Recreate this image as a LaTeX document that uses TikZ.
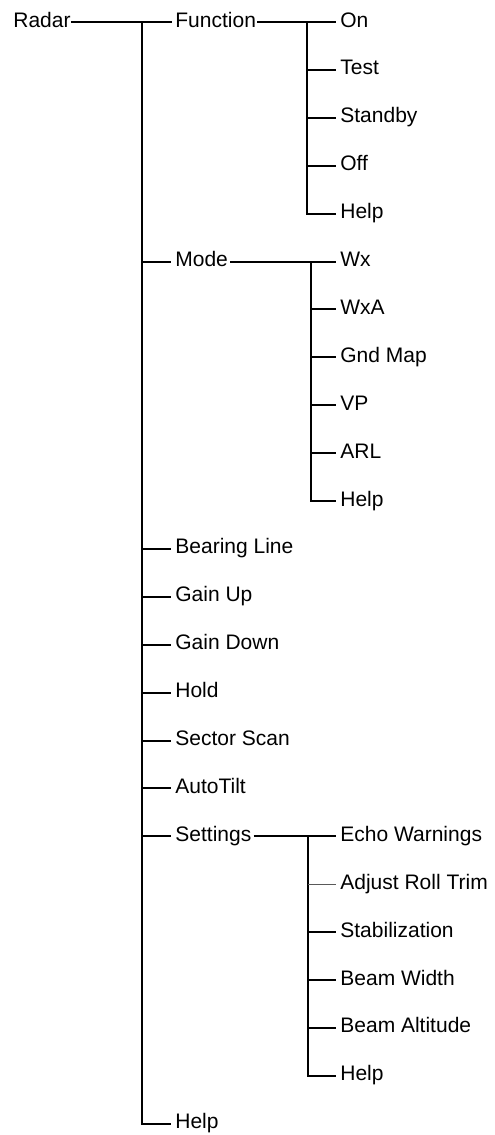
\documentclass[tikz,border=0pt]{standalone}
\usepackage{fontspec}
\setmainfont{Liberation Sans}
\begin{document}
\begin{tikzpicture}[x=0.5pt,y=-0.5pt,
  lbl/.style={anchor=west, inner sep=0pt, text height=5pt, text depth=0pt,
              font=\fontsize{10.5}{12}\selectfont},
  link/.style={line width=1pt, line join=miter},
  faint/.style={line width=0.5pt, black!65}]
\useasboundingbox (0,0) rectangle (494,1135);

% ---- labels -------------------------------------------------------
\node[lbl] (radar)    at (13,22)     {Radar};
% first level
\node[lbl] (function) at (175,22)    {Function};
\node[lbl] (mode)     at (175,261.5) {Mode};
\node[lbl] (bearing)  at (175,548.9) {Bearing Line};
\node[lbl] (gainup)   at (175,596.8) {Gain Up};
\node[lbl] (gaindown) at (175,644.7) {Gain Down};
\node[lbl] (hold)     at (175,692.6) {Hold};
\node[lbl] (sector)   at (175,740.5) {Sector Scan};
\node[lbl] (autotilt) at (175,788.4) {AutoTilt};
\node[lbl] (settings) at (175,836.3) {Settings};
\node[lbl] (help)     at (175,1123.7){Help};
% Function menu
\node[lbl] (fon)      at (340,22)    {On};
\node[lbl] (ftest)    at (340,69.9)  {Test};
\node[lbl] (fstandby) at (340,117.8) {Standby};
\node[lbl] (foff)     at (340,165.7) {Off};
\node[lbl] (fhelp)    at (340,213.6) {Help};
% Mode menu
\node[lbl] (mwx)      at (340,261.5) {Wx};
\node[lbl] (mwxa)     at (340,309.4) {WxA};
\node[lbl] (mgnd)     at (340,357.3) {Gnd Map};
\node[lbl] (mvp)      at (340,405.2) {VP};
\node[lbl] (marl)     at (340,453.1) {ARL};
\node[lbl] (mhelp)    at (340,501)   {Help};
% Settings menu
\node[lbl] (secho)    at (340,836.3) {Echo Warnings};
\node[lbl] (sroll)    at (340,884.2) {Adjust Roll Trim};
\node[lbl] (sstab)    at (340,932.1) {Stabilization};
\node[lbl] (sbeamw)   at (340,980)   {Beam Width};
\node[lbl] (sbeama)   at (340,1027.9){Beam Altitude};
\node[lbl] (shelp)    at (340,1075.8){Help};

% ---- main trunk ---------------------------------------------------
\coordinate (trunk) at (142,22);
\draw[link] (radar.east) -- ([xshift=-1.5pt]function.west);
\draw[link] (trunk) |- ([xshift=-2pt]help.west);
\foreach \n in {mode,bearing,gainup,gaindown,hold,sector,autotilt,settings}
  \draw[link] (trunk |- \n.west) -- ([xshift=-2pt]\n.west);

% ---- Function branch ----------------------------------------------
\coordinate (fsub) at (307,22);
\draw[link] ([xshift=0.5pt]function.east) -- ([xshift=-2pt]fon.west);
\draw[link] (fsub) |- ([xshift=-2pt]fhelp.west);
\foreach \n in {ftest,fstandby,foff}
  \draw[link] (fsub |- \n.west) -- ([xshift=-2pt]\n.west);

% ---- Mode branch --------------------------------------------------
\coordinate (msub) at (311,261.5);
\draw[link] ([xshift=1pt]mode.east) -- ([xshift=-2pt]mwx.west);
\draw[link] (msub) |- ([xshift=-2pt]mhelp.west);
\foreach \n in {mwxa,mgnd,mvp,marl}
  \draw[link] (msub |- \n.west) -- ([xshift=-2pt]\n.west);

% ---- Settings branch ----------------------------------------------
\coordinate (ssub) at (308,836.3);
\draw[link] ([xshift=1pt]settings.east) -- ([xshift=-2pt]secho.west);
\draw[link] (ssub) |- ([xshift=-2pt]shelp.west);
\draw[faint] (ssub |- sroll.west) -- ([xshift=-2pt]sroll.west);
\foreach \n in {sstab,sbeamw,sbeama}
  \draw[link] (ssub |- \n.west) -- ([xshift=-2pt]\n.west);
\end{tikzpicture}
\end{document}
